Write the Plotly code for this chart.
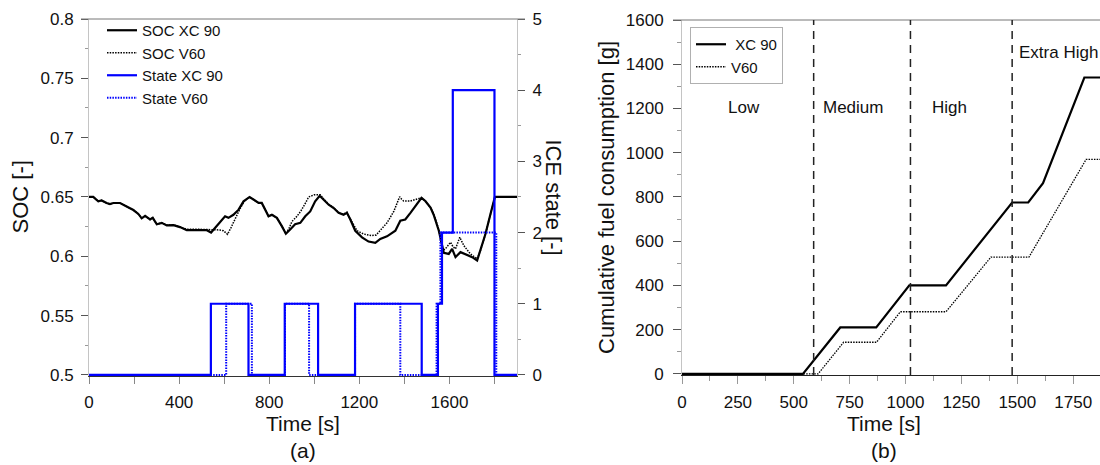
import plotly.graph_objects as go

# ---------------- data ----------------
# (a) battery state of charge over the cycle
soc_time_xc90 = [0, 19, 41, 56, 78, 93, 108, 138, 167, 197, 219, 234, 249, 271, 283, 301, 323, 345,
                 375, 404, 434, 479, 523, 542, 567, 604, 619, 641, 664, 686, 713, 730, 753, 767, 782,
                 797, 812, 834, 856, 874, 893, 915, 938, 960, 982, 1004, 1024, 1041, 1064, 1086, 1108,
                 1130, 1145, 1160, 1182, 1212, 1241, 1271, 1293, 1323, 1360, 1382, 1404, 1427, 1449,
                 1476, 1493, 1516, 1530, 1553, 1575, 1597, 1612, 1627, 1649, 1679, 1701, 1723, 1738,
                 1760, 1782, 1802, 1900]
soc_xc90 = [0.65, 0.65, 0.6463, 0.6471, 0.6449, 0.644, 0.6449, 0.6449, 0.642, 0.639, 0.6357, 0.632,
            0.634, 0.631, 0.6324, 0.627, 0.6282, 0.626, 0.6263, 0.6246, 0.622, 0.622, 0.622, 0.620,
            0.6254, 0.6337, 0.6324, 0.635, 0.6393, 0.6463, 0.65, 0.6478, 0.645, 0.645, 0.639, 0.6337,
            0.635, 0.6324, 0.6254, 0.619, 0.6226, 0.627, 0.6282, 0.6337, 0.6378, 0.6463, 0.651,
            0.6478, 0.6435, 0.6407, 0.6366, 0.635, 0.6366, 0.631, 0.6215, 0.616, 0.6124, 0.6113,
            0.6146, 0.6168, 0.6215, 0.6299, 0.631, 0.6366, 0.642, 0.6493, 0.6466, 0.641, 0.635,
            0.6215, 0.6029, 0.602, 0.6063, 0.5993, 0.6035, 0.6007, 0.5993, 0.5965, 0.6049, 0.6188,
            0.6354, 0.65, 0.65]

soc_time_v60 = [0, 19, 41, 56, 78, 93, 108, 138, 167, 197, 219, 234, 249, 271, 283, 301, 323, 345,
                375, 404, 434, 479, 523, 545, 580, 597, 615, 630, 649, 670, 690, 713, 730, 753, 767,
                782, 797, 812, 834, 856, 874, 888, 901, 923, 940, 960, 975, 1000, 1027, 1041, 1064,
                1086, 1108, 1130, 1145, 1160, 1190, 1219, 1256, 1275, 1293, 1323, 1353, 1379, 1388,
                1397, 1427, 1456, 1476, 1493, 1516, 1530, 1553, 1572, 1582, 1605, 1616, 1627, 1646,
                1664, 1693, 1723, 1738, 1760, 1782, 1802, 1900]
soc_v60 = [0.65, 0.65, 0.6463, 0.6471, 0.6449, 0.644, 0.6449, 0.6449, 0.642, 0.639, 0.6357, 0.632,
           0.634, 0.631, 0.6324, 0.627, 0.6282, 0.6263, 0.6265, 0.625, 0.6228, 0.6228, 0.6228,
           0.6222, 0.6222, 0.6215, 0.6185, 0.624, 0.632, 0.640, 0.6465, 0.65, 0.6478, 0.645, 0.645,
           0.639, 0.6337, 0.635, 0.6324, 0.6254, 0.619, 0.6235, 0.6293, 0.6337, 0.638, 0.6445,
           0.650, 0.6518, 0.6519, 0.6485, 0.6438, 0.641, 0.637, 0.6355, 0.637, 0.6315, 0.6215,
           0.6188, 0.6174, 0.618, 0.6215, 0.6282, 0.6378, 0.6502, 0.648, 0.6466, 0.6466, 0.648,
           0.6493, 0.6466, 0.641, 0.636, 0.6225, 0.605, 0.6063, 0.6118, 0.608, 0.6063, 0.616,
           0.609, 0.602, 0.5979, 0.6049, 0.6188, 0.6354, 0.65, 0.65]

# (a) engine operating state (held until the next change)
state_time_xc90 = [0, 541, 708, 869, 1017, 1181, 1477, 1549, 1567, 1615, 1800, 1900]
state_xc90 = [0, 1, 0, 1, 0, 1, 0, 1, 2, 4, 0, 0]
state_time_v60 = [0, 609, 723, 870, 977, 1181, 1382, 1543, 1560, 1808, 1900]
state_v60 = [0, 1, 0, 1, 0, 1, 0, 1, 2, 0, 0]

soc_ticks = [0.5, 0.55, 0.6, 0.65, 0.7, 0.75, 0.8]
soc_tick_labels = ["0.5", "0.55", "0.6", "0.65", "0.7", "0.75", "0.8"]
state_ticks = [0, 1, 2, 3, 4, 5]

# (b) cumulative fuel consumption
fuel_time_xc90 = [0, 541, 708, 869, 1017, 1181, 1477, 1549, 1615, 1800, 1900]
fuel_xc90 = [0, 0, 210, 210, 400, 400, 775, 775, 862, 1340, 1340]
fuel_time_v60 = [0, 609, 723, 870, 977, 1181, 1382, 1552, 1808, 1900]
fuel_v60 = [0, 0, 143, 143, 281, 281, 528, 528, 970, 970]

phase_bounds = [589, 1022, 1477]
phase_names = ["Low", "Medium", "High", "Extra High"]

# ---------------- layout helpers ----------------
W, H = 1100, 465
FONT = "Liberation Sans, Arial, sans-serif"


def px(x):
    return x / W


def py(y):
    return 1 - y / H


BLUE = "#0000ff"
DOTS = "1.5px,1.2px"

fig = go.Figure()

# SOC curves
fig.add_trace(go.Scatter(x=soc_time_xc90, y=soc_xc90, mode="lines", name="SOC XC 90",
                         line=dict(color="black", width=2.2), xaxis="x", yaxis="y", legend="legend"))
fig.add_trace(go.Scatter(x=soc_time_v60, y=soc_v60, mode="lines", name="SOC V60",
                         line=dict(color="black", width=1.5, dash=DOTS), xaxis="x", yaxis="y",
                         legend="legend"))
# engine state steps
fig.add_trace(go.Scatter(x=state_time_xc90, y=state_xc90, mode="lines", name="State XC 90",
                         line=dict(color=BLUE, width=2.2, shape="hv"), xaxis="x", yaxis="y2",
                         legend="legend"))
fig.add_trace(go.Scatter(x=state_time_v60, y=state_v60, mode="lines", name="State V60",
                         line=dict(color=BLUE, width=2, shape="hv", dash=DOTS), xaxis="x", yaxis="y2",
                         legend="legend"))

# fuel curves
fig.add_trace(go.Scatter(x=fuel_time_xc90, y=fuel_xc90, mode="lines", name=" XC 90",
                         line=dict(color="black", width=2.2), xaxis="x2", yaxis="y3", legend="legend2"))
fig.add_trace(go.Scatter(x=fuel_time_v60, y=fuel_v60, mode="lines", name="V60",
                         line=dict(color="black", width=1.3, dash=DOTS), xaxis="x2", yaxis="y3",
                         legend="legend2"))

tickfont = dict(family=FONT, size=17, color="#111")
titlefont = dict(family=FONT, size=21, color="#111")

left_dom_x = [px(89), px(517)]
left_dom_y = [py(376), py(19)]
right_dom_x = [px(682), 1.0]
right_dom_y = [py(375), py(20)]

common_axis = dict(showgrid=False, zeroline=False, ticks="outside", tickfont=tickfont,
                   showline=True, linewidth=1, automargin=False)

fig.update_layout(
    width=W, height=H,
    margin=dict(l=0, r=0, t=0, b=0, autoexpand=False),
    paper_bgcolor="white", plot_bgcolor="white",
    font=dict(family=FONT, color="#111"),
    xaxis=dict(common_axis, domain=left_dom_x, range=[0, 1900], anchor="y",
               tickmode="linear", tick0=0, dtick=400, ticklen=7, tickcolor="#888",
               linecolor="#333", ticklabelstandoff=4,
               minor=dict(dtick=200, tick0=0, ticks="outside", ticklen=7, tickcolor="#888")),
    yaxis=dict(common_axis, domain=left_dom_y, range=[0.4991, 0.8], anchor="x",
               tickvals=soc_ticks, ticktext=soc_tick_labels, ticklen=7, tickcolor="#555",
               linecolor="#c4c4c4", ticklabelstandoff=4,
               minor=dict(dtick=0.025, tick0=0.5, ticks="outside", ticklen=3, tickcolor="#999")),
    yaxis2=dict(common_axis, domain=left_dom_y, range=[-0.015, 5], anchor="x", overlaying="y",
                side="right", tickvals=state_ticks, ticklen=7, tickcolor="#555",
                linecolor="#c4c4c4", ticklabelstandoff=4,
                minor=dict(dtick=0.5, tick0=0, ticks="outside", ticklen=3, tickcolor="#999")),
    xaxis2=dict(common_axis, domain=right_dom_x, range=[0, 1870], anchor="y3",
                tickmode="linear", tick0=0, dtick=250, ticklen=8, tickcolor="#999",
                linecolor="#222", ticklabelstandoff=4,
                minor=dict(dtick=125, tick0=0, ticks="outside", ticklen=5, tickcolor="#999")),
    yaxis3=dict(common_axis, domain=right_dom_y, range=[-5, 1600], anchor="x2",
                tickmode="linear", tick0=0, dtick=200, ticklen=8, tickcolor="#555",
                linecolor="#c4c4c4", ticklabelstandoff=6,
                minor=dict(dtick=100, tick0=0, ticks="outside", ticklen=4, tickcolor="#999")),
    legend=dict(x=px(102), y=py(14), xanchor="left", yanchor="top", bgcolor="rgba(0,0,0,0)",
                borderwidth=0, font=dict(family=FONT, size=15, color="#111"),
                tracegroupgap=0),
    legend2=dict(x=px(690), y=py(27), xanchor="left", yanchor="top", bgcolor="white",
                 bordercolor="#b0b0b0", borderwidth=1,
                 font=dict(family=FONT, size=15, color="#111")),
    showlegend=True,
)

# top frame lines
fig.add_shape(type="line", xref="paper", yref="paper", x0=px(81), x1=px(525),
              y0=left_dom_y[1], y1=left_dom_y[1], line=dict(color="#777", width=1))
fig.add_shape(type="line", xref="paper", yref="paper", x0=px(673), x1=1.0,
              y0=right_dom_y[1], y1=right_dom_y[1], line=dict(color="#777", width=1))

# cycle phase boundaries
for b in phase_bounds:
    fig.add_shape(type="line", xref="x2", yref="y3 domain", x0=b, x1=b, y0=0, y1=1,
                  line=dict(color="#222", width=1.5, dash="8px,6px"))

phase_label_pos = [(279, 1205, "center"), (765, 1205, "center"), (1196, 1205, "center"),
                   (1500, 1455, "left")]
for name, (xp, yp, anch) in zip(phase_names, phase_label_pos):
    fig.add_annotation(x=xp, y=yp, xref="x2", yref="y3", text=name, showarrow=False,
                       xanchor=anch, yanchor="middle", font=dict(family=FONT, size=17, color="#111"))

# axis titles
titles = [
    ("SOC [-]", px(20), py(197.5), -90),
    ("ICE state [-]", px(553), py(197.5), 90),
    ("Time [s]", px(303), py(423), 0),
    ("(a)", px(303), py(450), 0),
    ("Cumulative fuel consumption [g]", px(607), py(197), -90),
    ("Time [s]", px(884), py(423), 0),
    ("(b)", px(884), py(450), 0),
]
for text, x, y, ang in titles:
    fig.add_annotation(x=x, y=y, xref="paper", yref="paper", text=text, showarrow=False,
                       textangle=ang, xanchor="center", yanchor="middle",
                       font=dict(titlefont, size=22 if ang else 21))

fig.write_html("out.html")
